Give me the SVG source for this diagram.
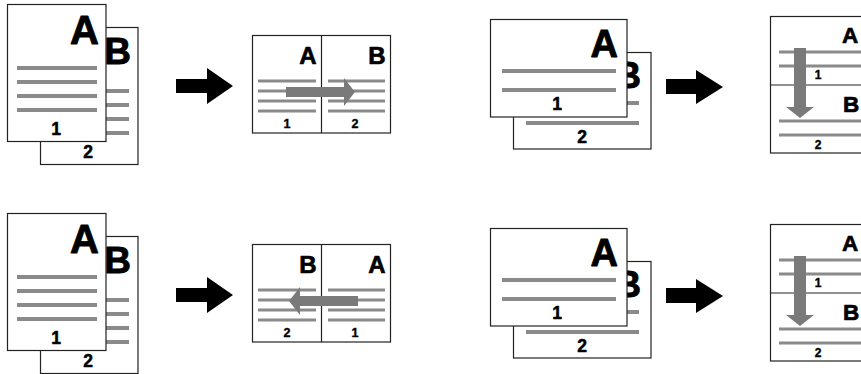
<svg xmlns="http://www.w3.org/2000/svg" width="861" height="374" viewBox="0 0 861 374">
<style>
.pg{fill:#fff;stroke:#222;stroke-width:1.2}
.ln4{stroke:#8a8a8a;stroke-width:4;fill:none}
.ln3{stroke:#8a8a8a;stroke-width:3;fill:none}
.dv{stroke:#222;stroke-width:1.2}
.ga{fill:#7a7a7a}
.ba{fill:#000}
text{font-family:"Liberation Sans",Arial,sans-serif;font-weight:bold;fill:#000;stroke:#000;stroke-width:0.9;stroke-linejoin:round}
.big{font-size:40px;text-anchor:end}
.bigb{font-size:37px;text-anchor:end}
.lbig{font-size:38px;text-anchor:end}
.lbigb{font-size:36px;text-anchor:end}
.num{font-size:17.5px;text-anchor:middle;stroke-width:0.5}
.mid{font-size:24px;text-anchor:end;stroke-width:0.7}
.sn{font-size:12.5px;text-anchor:middle;stroke-width:0.4}
.rs{font-size:22.5px;stroke-width:0.7}
.rn{font-size:12px;text-anchor:middle;stroke-width:0.4}
</style>
<defs>
<g id="portraitPair">
<rect class="pg" x="40.5" y="27.5" width="97.5" height="137"/>
<path class="ln4" d="M100 91H129M100 105H129M100 119H129M100 133H129"/>
<text class="bigb" x="131" y="64">B</text>
<text class="num" x="88" y="158">2</text>
<rect class="pg" x="7.5" y="4.5" width="98.5" height="137"/>
<path class="ln4" d="M17 68H97M17 82H97M17 96H97M17 110H97"/>
<text class="big" x="99" y="44">A</text>
<text class="num" x="56" y="135">1</text>
</g>
<g id="landPair">
<rect class="pg" x="513.5" y="52.5" width="137.5" height="96.5"/>
<path class="ln4" d="M600 103H639M526 123H639"/>
<text class="lbigb" x="641" y="88">B</text>
<text class="num" x="582" y="143">2</text>
<rect class="pg" x="490.5" y="19.5" width="136.5" height="97.5"/>
<path class="ln4" d="M502 71H616M502 90H616"/>
<text class="lbig" x="618" y="57">A</text>
<text class="num" x="557" y="110">1</text>
</g>
<g id="stackSpread">
<rect class="pg" x="770.5" y="16.5" width="100" height="136.5"/>
<line class="dv" x1="770.5" y1="85" x2="870" y2="85"/>
<path class="ln3" d="M779 52H870M779 66H870M779 121H870M779 135H870"/>
<text class="rs" x="842" y="43">A</text>
<text class="rs" x="843" y="112">B</text>
<text class="rn" x="818" y="79">1</text>
<text class="rn" x="818" y="149">2</text>
<polygon class="ga" points="794,48 806,48 806,107 814,107 800,118 786,107 794,107"/>
</g>
</defs>

<g id="node-portrait-top"><use href="#portraitPair"/></g>
<g id="node-spread-top">
<rect class="pg" x="252.5" y="35.5" width="138" height="97.5"/>
<line class="dv" x1="321.5" y1="35.5" x2="321.5" y2="133"/>
<path class="ln3" d="M258 81H316M258 91H316M258 101H316M258 111H316M328 81H385M328 91H385M328 101H385M328 111H385"/>
<text class="mid" x="316.5" y="64">A</text>
<text class="mid" x="385.5" y="64">B</text>
<text class="sn" x="287" y="128">1</text>
<text class="sn" x="355" y="128">2</text>
<polygon class="ga" points="286,87 344,87 344,78 355,92 344,106 344,97 286,97"/>
</g>
<g id="node-landscape-top"><use href="#landPair"/></g>
<g id="node-stack-top"><use href="#stackSpread"/></g>

<g id="node-portrait-bottom" transform="translate(0,209)"><use href="#portraitPair"/></g>
<g id="node-spread-bottom" transform="translate(0,209)">
<rect class="pg" x="252.5" y="35.5" width="138" height="97.5"/>
<line class="dv" x1="321.5" y1="35.5" x2="321.5" y2="133"/>
<path class="ln3" d="M258 81H316M258 91H316M258 101H316M258 111H316M328 81H385M328 91H385M328 101H385M328 111H385"/>
<text class="mid" x="316.5" y="64">B</text>
<text class="mid" x="385.5" y="64">A</text>
<text class="sn" x="287" y="128">2</text>
<text class="sn" x="355" y="128">1</text>
<polygon class="ga" points="358,87 300,87 300,78 289,92 300,106 300,97 358,97"/>
</g>
<g id="node-landscape-bottom" transform="translate(0,209)"><use href="#landPair"/></g>
<g id="node-stack-bottom" transform="translate(0,208)"><use href="#stackSpread"/></g>

<g id="connectors">
<polygon class="ba" points="176,79 207,79 207,68 233,86 207,104 207,93 176,93"/>
<polygon class="ba" points="666,79 696,79 696,70 723,87 696,104 696,94 666,94"/>
<polygon class="ba" points="176,288 207,288 207,277 233,295 207,313 207,302 176,302"/>
<polygon class="ba" points="666,288 696,288 696,279 723,296 696,313 696,303 666,303"/>
</g>
</svg>
